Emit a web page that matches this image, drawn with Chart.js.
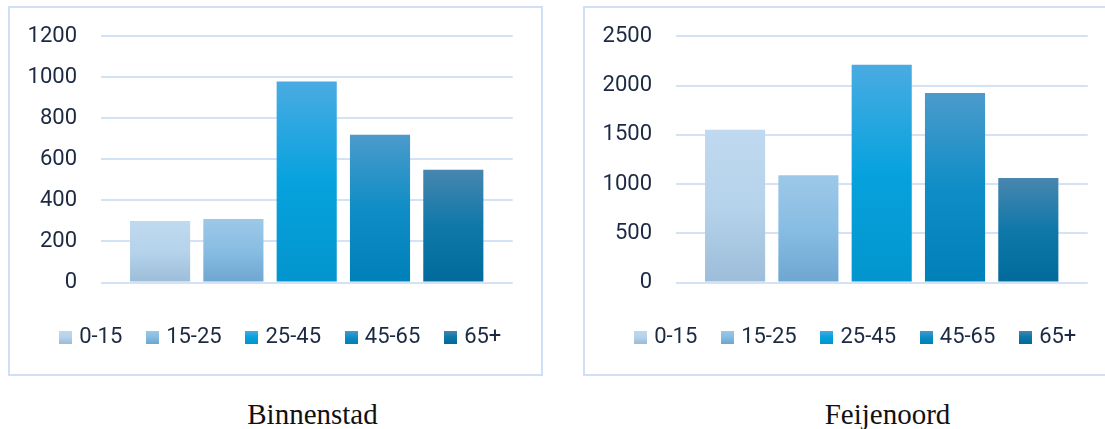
<!DOCTYPE html>
<html>
<head>
<meta charset="utf-8">
<script src="https://cdn.jsdelivr.net/npm/chart.js@4.4.1/dist/chart.umd.min.js"></script>
<style>
html,body{margin:0;padding:0;background:#fff;width:1105px;height:429px;overflow:hidden;position:relative;}
.panel{position:absolute;box-sizing:border-box;border:2px solid #cfe0f4;width:535px;height:370px;top:6px;}
.cv{position:absolute;top:-1px;width:540px;height:371px;}
.cv canvas{display:block;}
.title{position:absolute;top:400px;width:300px;text-align:center;font-family:"Liberation Serif","Times New Roman",serif;font-size:29px;line-height:29px;color:#111;white-space:nowrap;}
</style>
</head>
<body>
<div class="panel" style="left:8px"></div>
<div class="panel" style="left:583px"></div>
<div class="cv" style="left:10px"><canvas id="c1" width="540" height="371" style="width:540px;height:371px"></canvas></div>
<div class="cv" style="left:585px"><canvas id="c2" width="540" height="371" style="width:540px;height:371px"></canvas></div>
<div class="title" id="t1" style="left:162.5px"></div>
<div class="title" id="t2" style="left:737.5px"></div>
<script>
// ---- data ----
const categories = ['0-15', '15-25', '25-45', '45-65', '65+'];
const binnenstadValues = [300, 310, 980, 720, 550];
const feijenoordValues = [1550, 1090, 2210, 1925, 1060];
const binnenstadTicks = [0, 200, 400, 600, 800, 1000, 1200];
const feijenoordTicks = [0, 500, 1000, 1500, 2000, 2500];
const chartTitles = ['Binnenstad', 'Feijenoord'];

// ---- styles ----
const gradStops = [
  ['#bfd9ef', '#b5d3eb', '#9cbcd8'],
  ['#9dc8e8', '#88bde3', '#6ea6d1'],
  ['#4aabe2', '#06a2de', '#0395cd'],
  ['#4b9bcb', '#0f8dc6', '#0080b8'],
  ['#4886af', '#0f78a9', '#006b9b']
];
const textColor = '#1b2a42';
const gridColor = '#d3e3f5';
Chart.defaults.font.family = 'Roboto';
Chart.defaults.font.size = 22;

function swatch(stops) {
  const c = document.createElement('canvas');
  c.width = 13; c.height = 13;
  const x = c.getContext('2d');
  const g = x.createLinearGradient(0, 0, 0, 13);
  g.addColorStop(0, stops[0]); g.addColorStop(0.5, stops[1]); g.addColorStop(1, stops[2]);
  x.fillStyle = g; x.fillRect(0, 0, 13, 13);
  return c;
}
const swatches = gradStops.map(swatch);

function barFill(context) {
  const stops = gradStops[context.dataIndex] || gradStops[0];
  const chart = context.chart;
  if (!chart.chartArea || context.type !== 'data' || !context.parsed) return stops[1];
  const ys = chart.scales.y;
  const top = ys.getPixelForValue(context.parsed.y);
  const bottom = ys.getPixelForValue(0);
  if (!isFinite(top) || !isFinite(bottom) || top === bottom) return stops[1];
  const g = chart.ctx.createLinearGradient(0, top, 0, bottom);
  g.addColorStop(0, stops[0]); g.addColorStop(0.5, stops[1]); g.addColorStop(1, stops[2]);
  return g;
}

function makeChart(id, values, ticks) {
  return new Chart(document.getElementById(id), {
    type: 'bar',
    data: {
      datasets: [{
        data: categories.map((c, i) => ({x: i, y: values[i]})),
        backgroundColor: barFill,
        borderWidth: 0,
        barPercentage: 0.82,
        categoryPercentage: 1
      }]
    },
    options: {
      responsive: false,
      animation: false,
      devicePixelRatio: 1,
      layout: {padding: {left: 12, right: 8, top: 37.3, bottom: 12}},
      plugins: {
        tooltip: {enabled: false},
        title: {display: false},
        legend: {
          position: 'bottom',
          align: 'center',
          onClick: null,
          labels: {
            usePointStyle: true,
            boxWidth: 5.5,
            boxHeight: 22,
            padding: 27.3,
            color: textColor,
            font: {size: 22, family: 'Roboto'},
            generateLabels: () => categories.map((c, i) => ({
              text: c,
              fillStyle: gradStops[i][1],
              strokeStyle: 'rgba(0,0,0,0)',
              lineWidth: 0,
              pointStyle: swatches[i],
              hidden: false,
              index: i,
              fontColor: textColor
            }))
          }
        }
      },
      scales: {
        x: {
          type: 'linear',
          min: -0.81,
          max: categories.length - 1 + 0.81,
          offset: false,
          grid: {display: false},
          border: {display: false},
          ticks: {display: false},
          afterBuildTicks: (s) => { s.ticks = categories.map((c, i) => ({value: i})); },
          afterFit: (s) => { s.height = 16.2; }
        },
        y: {
          position: 'left',
          min: ticks[0],
          max: ticks[ticks.length - 1],
          afterBuildTicks: (s) => { s.ticks = ticks.map(v => ({value: v})); },
          afterFit: (s) => { s.width = 78.7; },
          grid: {color: gridColor, lineWidth: 2, drawTicks: false},
          border: {display: false},
          ticks: {
            padding: 23.7,
            color: textColor,
            font: {size: 22, family: 'Roboto'},
            callback: (v) => String(v)
          }
        },
        yR: {
          position: 'right',
          display: true,
          min: 0,
          max: 1,
          grid: {display: false},
          border: {display: false},
          ticks: {display: false},
          afterFit: (s) => { s.width = 29.3; }
        }
      }
    }
  });
}

makeChart('c1', binnenstadValues, binnenstadTicks);
makeChart('c2', feijenoordValues, feijenoordTicks);
document.getElementById('t1').textContent = chartTitles[0];
document.getElementById('t2').textContent = chartTitles[1];
</script>
</body>
</html>
